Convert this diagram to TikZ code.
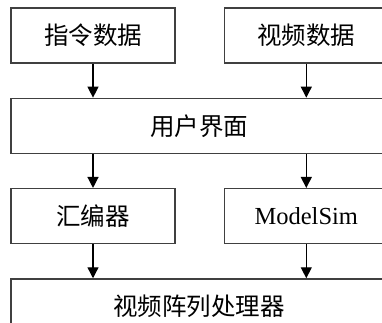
\documentclass[tikz,border=0pt]{standalone}
\usepackage{fontspec}
\setmainfont{Liberation Serif}
\newfontfamily\cjk{Noto Sans CJK SC}
\usepackage{tikz}
\usetikzlibrary{arrows.meta, positioning}
\definecolor{boxline}{HTML}{404040}
\tikzset{
  % Flow boxes
  flowbox/.style={
    rectangle, draw=boxline, fill=white, line width=1.3pt,
    minimum width=164pt, minimum height=55pt, inner sep=0pt,
    font=\fontsize{24.5}{29}\selectfont, align=center,
  },
  widebox/.style={flowbox, minimum width=376pt},
  % Arrows
  flowarrow/.style={-{Triangle[length=11pt, width=11pt]}, line width=1.3pt, draw=black},
}

\begin{document}
\begin{tikzpicture}[x=1pt, y=-1pt]
  \useasboundingbox (0,0) rectangle (382,322);
  % Nodes
  \node[flowbox] (cmd) at (93,35.5) {\cjk 指令数据};
  \node[flowbox, right=48pt of cmd] (vid) {\cjk 视频数据};
  \node[widebox, below=34pt of cmd.south west, anchor=north west] (ui) {\cjk 用户界面};
  \node[flowbox, below=34pt of ui.south west, anchor=north west] (asm) {\cjk 汇编器};
  \node[flowbox, right=48pt of asm] (sim) {ModelSim};
  \node[widebox, below=34pt of asm.south west, anchor=north west] (vap) {\cjk 视频阵列处理器};

  % Arrows
  \draw[flowarrow] (cmd) -- (ui.north -| cmd);
  \draw[flowarrow] (vid) -- (ui.north -| vid);
  \draw[flowarrow] (ui.south -| asm) -- (asm);
  \draw[flowarrow] (ui.south -| sim) -- (sim);
  \draw[flowarrow] (asm) -- (vap.north -| asm);
  \draw[flowarrow] (sim) -- (vap.north -| sim);
\end{tikzpicture}
\end{document}
